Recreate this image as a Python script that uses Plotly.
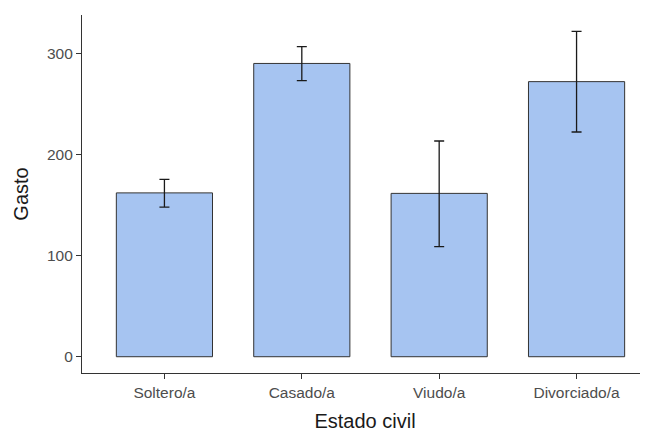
import plotly.graph_objects as go

estado = ["Soltero/a", "Casado/a", "Viudo/a", "Divorciado/a"]
gasto = [162, 290, 161.5, 272]
err_sup = [175.3, 306.7, 213.3, 321.8]
err_inf = [148, 273, 108.8, 222.2]

plus = [s - g for s, g in zip(err_sup, gasto)]
minus = [g - i for g, i in zip(gasto, err_inf)]

fig = go.Figure(go.Bar(
    x=estado, y=gasto, width=0.7,
    marker=dict(color="#A6C4F1", line=dict(color="#333333", width=1)),
    error_y=dict(type="data", symmetric=False, array=plus, arrayminus=minus,
                 color="#1a1a1a", thickness=1.3, width=5),
))

# the page adds an 8px body margin, so the figure is 8px smaller
fig.update_layout(
    width=640, height=424,
    margin=dict(l=74, r=0, t=7, b=59),
    plot_bgcolor="white", paper_bgcolor="white",
    font=dict(family="Liberation Sans, Arial, sans-serif", color="#4d4d4d"),
    showlegend=False,
)
fig.update_xaxes(
    range=[-0.6, 3.52], showline=True, linecolor="#333333", linewidth=1.2,
    ticks="outside", ticklen=5, tickcolor="#333333", tickwidth=1.2,
    tickfont=dict(size=15.5, color="#4d4d4d"),
    title=dict(text="Estado civil", font=dict(size=20, color="#1a1a1a"), standoff=17),
    showgrid=False, zeroline=False,
)
fig.update_yaxes(
    range=[-16.1, 337.9], tickvals=[0, 100, 200, 300],
    showline=True, linecolor="#333333", linewidth=1.2,
    ticks="outside", ticklen=5, tickcolor="#333333", tickwidth=1.2,
    tickfont=dict(size=15.5, color="#4d4d4d"),
    title=dict(text="Gasto", font=dict(size=20, color="#1a1a1a"), standoff=12),
    showgrid=False, zeroline=False,
)

fig.write_html("out.html")
